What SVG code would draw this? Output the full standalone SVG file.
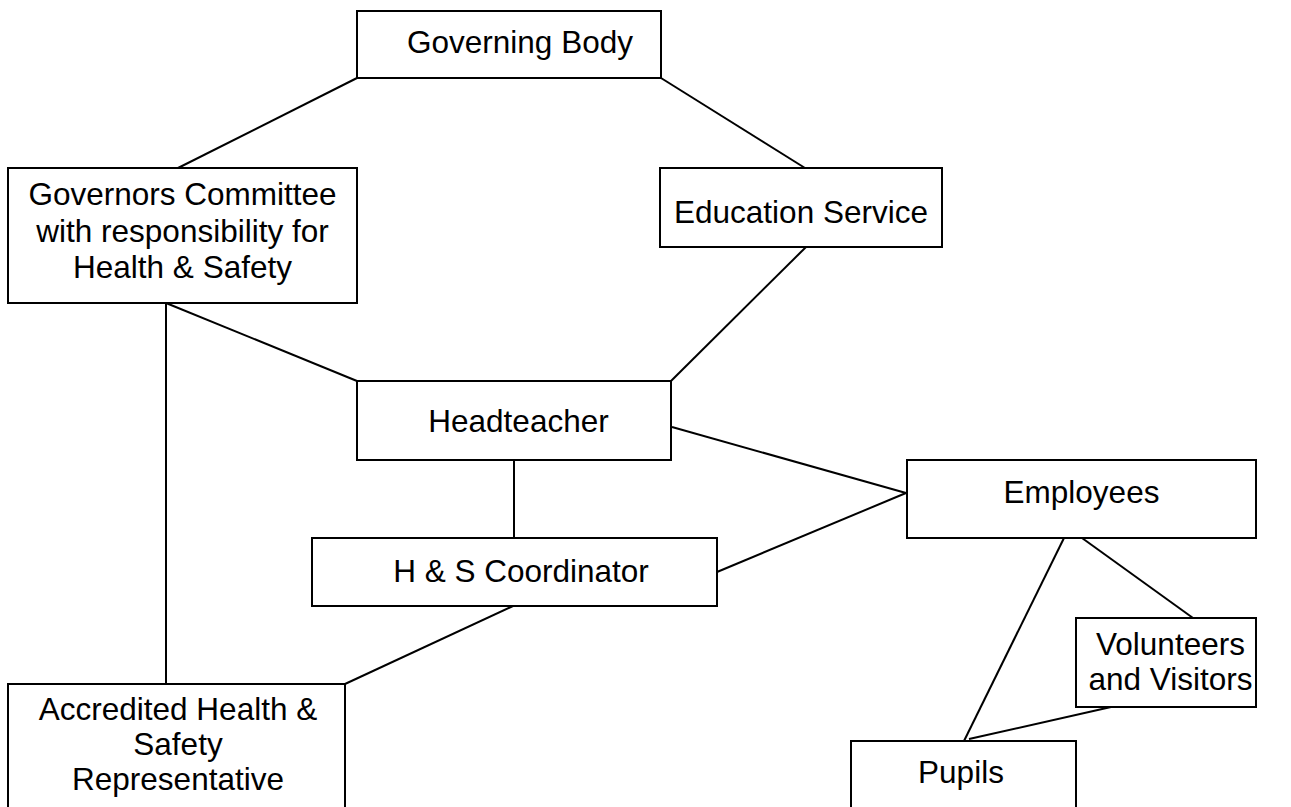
<svg xmlns="http://www.w3.org/2000/svg" width="1291" height="807" viewBox="0 0 1291 807">
<style>
.box{fill:#fff;stroke:#000;stroke-width:2}
.ln{stroke:#000;stroke-width:2;fill:none}
text{font-family:"Liberation Sans",Arial,sans-serif;font-size:31.5px;fill:#000;text-anchor:middle}
</style>
<rect width="1291" height="807" fill="#fff"/>
<g id="connectors">
<line class="ln" x1="357" y1="78" x2="178" y2="168"/>
<line class="ln" x1="661" y1="78" x2="805" y2="168"/>
<line class="ln" x1="166" y1="303" x2="357" y2="381"/>
<line class="ln" x1="166" y1="303" x2="166" y2="684"/>
<line class="ln" x1="806" y1="247" x2="671" y2="381"/>
<line class="ln" x1="514" y1="460" x2="514" y2="538"/>
<line class="ln" x1="672" y1="427" x2="906" y2="493"/>
<line class="ln" x1="717" y1="572" x2="906" y2="493"/>
<line class="ln" x1="513" y1="606" x2="345" y2="684"/>
<line class="ln" x1="1064" y1="538" x2="964" y2="741"/>
<line class="ln" x1="1082" y1="538" x2="1193" y2="618"/>
<line class="ln" x1="1111" y1="707" x2="969" y2="739"/>
</g>
<g id="governing-body">
<rect class="box" x="357" y="11" width="304" height="67"/>
<text x="520" y="53">Governing Body</text>
</g>
<g id="governors-committee">
<rect class="box" x="8" y="168" width="349" height="135"/>
<text x="182.5" y="205">Governors Committee</text>
<text x="182.5" y="241.7">with responsibility for</text>
<text x="182.5" y="278.3">Health &amp; Safety</text>
</g>
<g id="education-service">
<rect class="box" x="660" y="168" width="282" height="79"/>
<text x="801" y="223">Education Service</text>
</g>
<g id="headteacher">
<rect class="box" x="357" y="381" width="314" height="79"/>
<text x="518.5" y="431.7">Headteacher</text>
</g>
<g id="hs-coordinator">
<rect class="box" x="312" y="538" width="405" height="68"/>
<text x="521" y="581.7">H &amp; S Coordinator</text>
</g>
<g id="employees">
<rect class="box" x="907" y="460" width="349" height="78"/>
<text x="1081.5" y="503">Employees</text>
</g>
<g id="volunteers-visitors">
<rect class="box" x="1076" y="618" width="180" height="89"/>
<text x="1170.5" y="655">Volunteers</text>
<text x="1170.5" y="690">and Visitors</text>
</g>
<g id="accredited-rep">
<rect class="box" x="8" y="684" width="337" height="140"/>
<text x="178" y="720">Accredited Health &amp;</text>
<text x="178" y="755">Safety</text>
<text x="178" y="790">Representative</text>
</g>
<g id="pupils">
<rect class="box" x="851" y="741" width="225" height="83"/>
<text x="961" y="783">Pupils</text>
</g>
</svg>
